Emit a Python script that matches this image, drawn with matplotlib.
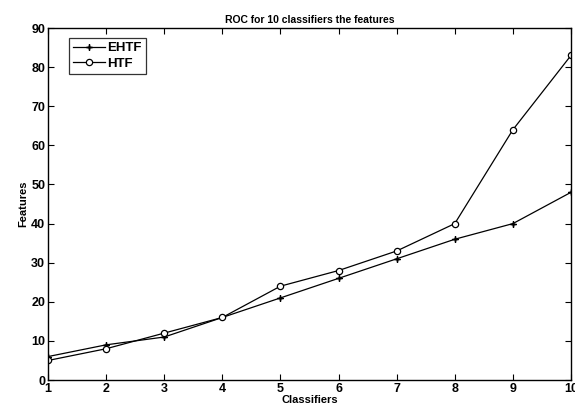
import numpy as np
import matplotlib
matplotlib.use('Agg')
import matplotlib.pyplot as plt

plt.rcParams['font.family'] = ['Liberation Sans', 'DejaVu Sans']
plt.rcParams['font.weight'] = 'bold'
plt.rcParams['axes.titleweight'] = 'bold'
plt.rcParams['axes.labelweight'] = 'bold'

# data
classifiers = [1, 2, 3, 4, 5, 6, 7, 8, 9, 10]
ehtf = [6, 9, 11, 16, 21, 26, 31, 36, 40, 48]
htf = [5, 8, 12, 16, 24, 28, 33, 40, 64, 83]

fig = plt.figure(figsize=(5.75, 4.19), dpi=100)
ax = fig.add_axes([0.0835, 0.093, 0.9095, 0.84])

ax.plot(classifiers, ehtf, '-', color='k', lw=0.9, marker=(4, 2, 0), ms=5,
        mew=1.0, label='EHTF')
ax.plot(classifiers, htf, '-', color='k', lw=0.9, marker='o', ms=4.5,
        mfc='white', mew=0.9, label='HTF')

ax.set_xlim(1, 10)
ax.set_ylim(0, 90)
ax.set_xticks(classifiers)
ax.set_yticks(np.arange(0, 91, 10))
ax.tick_params(direction='in', top=True, right=True, labelsize=9, length=4,
               pad=2)
for s in ax.spines.values():
    s.set_linewidth(1.0)

ax.set_title('ROC for 10 classifiers the features', fontsize=7.5, pad=4)
ax.set_xlabel('Classifiers', fontsize=8, labelpad=0)
ax.set_ylabel('Features', fontsize=8, labelpad=2)

leg = ax.legend(loc='upper left', fontsize=9.5, frameon=True, fancybox=False,
                edgecolor='k', borderpad=0.3, handlelength=2.4,
                handletextpad=0.2, labelspacing=0.25,
                bbox_to_anchor=(0.028, 0.99))
leg.get_frame().set_linewidth(0.9)

fig.savefig('out.png', dpi=100)
